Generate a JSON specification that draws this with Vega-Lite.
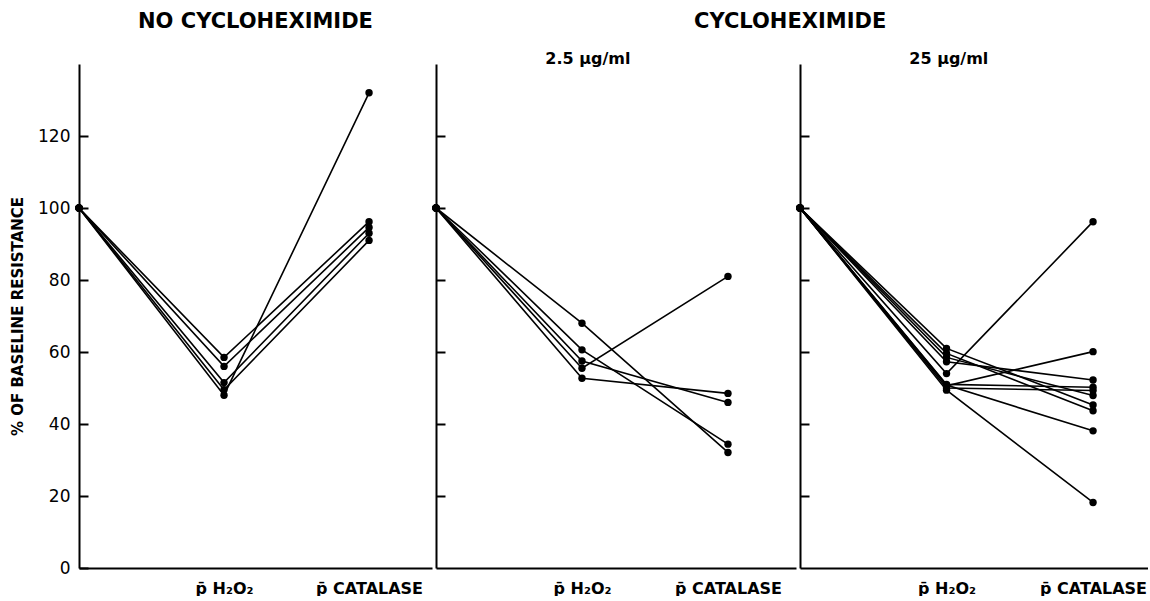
{
  "$schema": "https://vega.github.io/schema/vega-lite/v6.json",
  "background": "white",
  "padding": {"left": 10, "top": 11, "right": 0, "bottom": 0},
  "config": {
    "font": "DejaVu Sans",
    "view": {"stroke": null},
    "concat": {"spacing": 0},
    "axis": {
      "grid": false,
      "domainColor": "black",
      "domainWidth": 2,
      "tickColor": "black",
      "tickWidth": 2,
      "labelColor": "black",
      "titleColor": "black",
      "labelFont": "DejaVu Sans",
      "titleFont": "DejaVu Sans"
    },
    "title": {"color": "black", "font": "DejaVu Sans", "fontWeight": "bold"}
  },
  "datasets": {
    "resistance": [
      {"panel": "none", "subject": "a1", "cond": 0, "value": 100},
      {"panel": "none", "subject": "a1", "cond": 1, "value": 58.5},
      {"panel": "none", "subject": "a1", "cond": 2, "value": 96.2},
      {"panel": "none", "subject": "a2", "cond": 0, "value": 100},
      {"panel": "none", "subject": "a2", "cond": 1, "value": 56},
      {"panel": "none", "subject": "a2", "cond": 2, "value": 94.6},
      {"panel": "none", "subject": "a3", "cond": 0, "value": 100},
      {"panel": "none", "subject": "a3", "cond": 1, "value": 51.5},
      {"panel": "none", "subject": "a3", "cond": 2, "value": 93},
      {"panel": "none", "subject": "a4", "cond": 0, "value": 100},
      {"panel": "none", "subject": "a4", "cond": 1, "value": 49.5},
      {"panel": "none", "subject": "a4", "cond": 2, "value": 91},
      {"panel": "none", "subject": "a5", "cond": 0, "value": 100},
      {"panel": "none", "subject": "a5", "cond": 1, "value": 48},
      {"panel": "none", "subject": "a5", "cond": 2, "value": 132},
      {"panel": "low", "subject": "b1", "cond": 0, "value": 100},
      {"panel": "low", "subject": "b1", "cond": 1, "value": 68},
      {"panel": "low", "subject": "b1", "cond": 2, "value": 32.1},
      {"panel": "low", "subject": "b2", "cond": 0, "value": 100},
      {"panel": "low", "subject": "b2", "cond": 1, "value": 60.6},
      {"panel": "low", "subject": "b2", "cond": 2, "value": 34.4},
      {"panel": "low", "subject": "b3", "cond": 0, "value": 100},
      {"panel": "low", "subject": "b3", "cond": 1, "value": 57.5},
      {"panel": "low", "subject": "b3", "cond": 2, "value": 46},
      {"panel": "low", "subject": "b4", "cond": 0, "value": 100},
      {"panel": "low", "subject": "b4", "cond": 1, "value": 55.5},
      {"panel": "low", "subject": "b4", "cond": 2, "value": 81},
      {"panel": "low", "subject": "b5", "cond": 0, "value": 100},
      {"panel": "low", "subject": "b5", "cond": 1, "value": 52.7},
      {"panel": "low", "subject": "b5", "cond": 2, "value": 48.5},
      {"panel": "high", "subject": "c1", "cond": 0, "value": 100},
      {"panel": "high", "subject": "c1", "cond": 1, "value": 54},
      {"panel": "high", "subject": "c1", "cond": 2, "value": 96.2},
      {"panel": "high", "subject": "c2", "cond": 0, "value": 100},
      {"panel": "high", "subject": "c2", "cond": 1, "value": 50.6},
      {"panel": "high", "subject": "c2", "cond": 2, "value": 60.1},
      {"panel": "high", "subject": "c3", "cond": 0, "value": 100},
      {"panel": "high", "subject": "c3", "cond": 1, "value": 57.3},
      {"panel": "high", "subject": "c3", "cond": 2, "value": 52.2},
      {"panel": "high", "subject": "c4", "cond": 0, "value": 100},
      {"panel": "high", "subject": "c4", "cond": 1, "value": 51},
      {"panel": "high", "subject": "c4", "cond": 2, "value": 50.2},
      {"panel": "high", "subject": "c5", "cond": 0, "value": 100},
      {"panel": "high", "subject": "c5", "cond": 1, "value": 50},
      {"panel": "high", "subject": "c5", "cond": 2, "value": 49.3},
      {"panel": "high", "subject": "c6", "cond": 0, "value": 100},
      {"panel": "high", "subject": "c6", "cond": 1, "value": 61},
      {"panel": "high", "subject": "c6", "cond": 2, "value": 45.3},
      {"panel": "high", "subject": "c7", "cond": 0, "value": 100},
      {"panel": "high", "subject": "c7", "cond": 1, "value": 59.6},
      {"panel": "high", "subject": "c7", "cond": 2, "value": 43.7},
      {"panel": "high", "subject": "c8", "cond": 0, "value": 100},
      {"panel": "high", "subject": "c8", "cond": 1, "value": 50.8},
      {"panel": "high", "subject": "c8", "cond": 2, "value": 38.1},
      {"panel": "high", "subject": "c9", "cond": 0, "value": 100},
      {"panel": "high", "subject": "c9", "cond": 1, "value": 49.4},
      {"panel": "high", "subject": "c9", "cond": 2, "value": 18.2},
      {"panel": "high", "subject": "c10", "cond": 0, "value": 100},
      {"panel": "high", "subject": "c10", "cond": 1, "value": 58.5},
      {"panel": "high", "subject": "c10", "cond": 2, "value": 47.9}
    ]
  },
  "hconcat": [
    {
      "title": {"text": "NO CYCLOHEXIMIDE", "anchor": "middle", "fontSize": 21, "offset": 32},
      "width": 353,
      "height": 504,
      "data": {"name": "resistance"},
      "transform": [{"filter": "datum.panel == 'none'"}],
      "encoding": {
        "x": {"field": "cond", "type": "quantitative", "scale": {"domain": [0, 2.434], "nice": false, "zero": false},
          "axis": {"values": [1, 2], "ticks": false, "title": null, "labelFontSize": 16, "labelFontWeight": "bold", "labelPadding": 12,
            "labelExpr": "datum.value == 1 ? 'p̄ H₂O₂' : 'p̄ CATALASE'"}},
        "y": {"field": "value", "type": "quantitative", "scale": {"domain": [0, 140], "nice": false},
          "axis": {"values": [0, 20, 40, 60, 80, 100, 120], "tickSize": -9, "labelPadding": 18, "labelFontSize": 17,
            "title": "% OF  BASELINE RESISTANCE", "titleFontSize": 15, "titleFontWeight": "bold", "titlePadding": 12}},
        "detail": {"field": "subject"}
      },
      "layer": [
        {"mark": {"type": "line", "color": "black", "strokeWidth": 1.6}},
        {"mark": {"type": "point", "filled": true, "color": "black", "opacity": 1, "size": 55}}
      ]
    },
    {
      "title": {"text": "CYCLOHEXIMIDE", "anchor": "middle", "fontSize": 21, "offset": 19},
      "spacing": 0,
      "hconcat": [
        {
          "title": {"text": "2.5 μg/ml", "anchor": "start", "dx": 113, "dy": 3, "fontSize": 16, "offset": 0},
          "width": 360,
          "height": 504,
          "data": {"name": "resistance"},
          "transform": [{"filter": "datum.panel == 'low'"}],
          "encoding": {
            "x": {"field": "cond", "type": "quantitative", "scale": {"domain": [0, 2.466], "nice": false, "zero": false},
              "axis": {"values": [1, 2], "ticks": false, "title": null, "labelFontSize": 16, "labelFontWeight": "bold", "labelPadding": 12,
                "labelExpr": "datum.value == 1 ? 'p̄ H₂O₂' : 'p̄ CATALASE'"}},
            "y": {"field": "value", "type": "quantitative", "scale": {"domain": [0, 140], "nice": false},
              "axis": {"values": [20, 40, 60, 80, 100, 120], "tickSize": -9, "labels": false, "title": null}},
            "detail": {"field": "subject"}
          },
          "layer": [
            {"mark": {"type": "line", "color": "black", "strokeWidth": 1.6}},
            {"mark": {"type": "point", "filled": true, "color": "black", "opacity": 1, "size": 55}}
          ]
        },
        {
          "title": {"text": "25 μg/ml", "anchor": "start", "dx": 113, "dy": 3, "fontSize": 16, "offset": 0},
          "width": 348,
          "height": 504,
          "data": {"name": "resistance"},
          "transform": [{"filter": "datum.panel == 'high'"}],
          "encoding": {
            "x": {"field": "cond", "type": "quantitative", "scale": {"domain": [0, 2.375], "nice": false, "zero": false},
              "axis": {"values": [1, 2], "ticks": false, "title": null, "labelFontSize": 16, "labelFontWeight": "bold", "labelPadding": 12,
                "labelExpr": "datum.value == 1 ? 'p̄ H₂O₂' : 'p̄ CATALASE'"}},
            "y": {"field": "value", "type": "quantitative", "scale": {"domain": [0, 140], "nice": false},
              "axis": {"values": [20, 40, 60, 80, 100, 120], "tickSize": -9, "labels": false, "title": null}},
            "detail": {"field": "subject"}
          },
          "layer": [
            {"mark": {"type": "line", "color": "black", "strokeWidth": 1.6}},
            {"mark": {"type": "point", "filled": true, "color": "black", "opacity": 1, "size": 55}}
          ]
        }
      ]
    }
  ]
}
